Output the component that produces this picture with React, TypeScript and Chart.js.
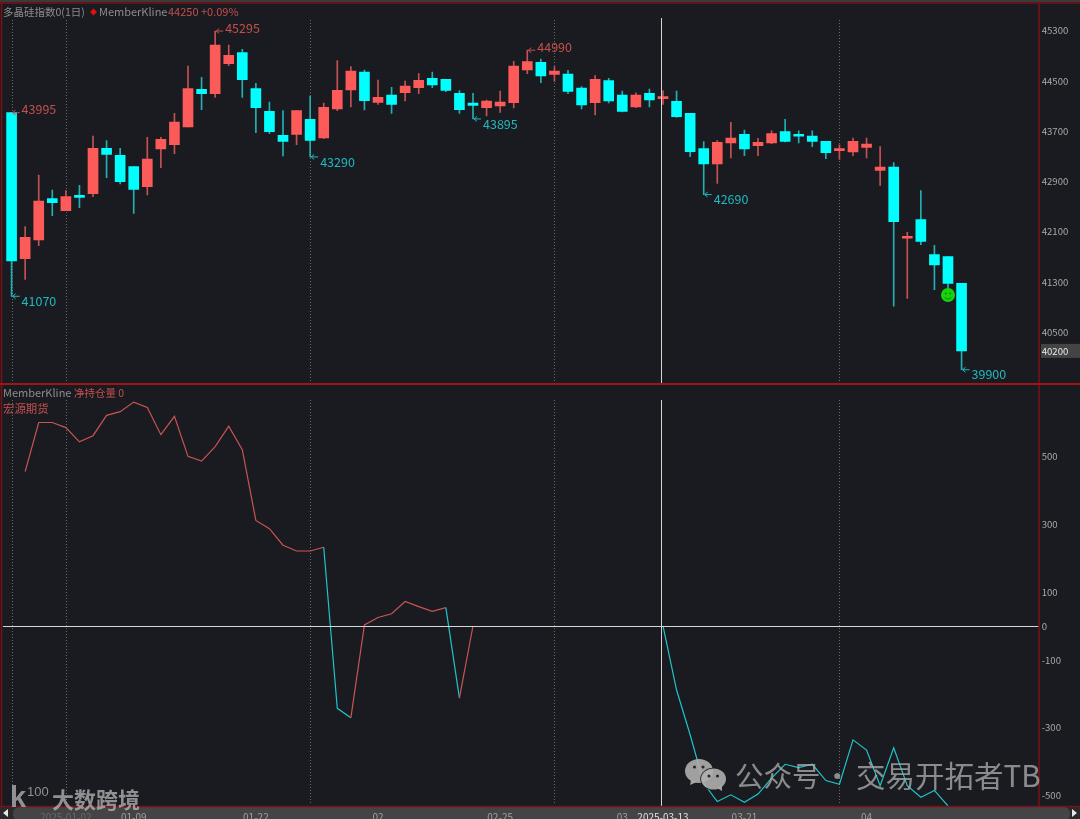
import React, { useEffect, useRef } from "react";
import { Chart, registerables } from "chart.js";

Chart.register(...registerables);

const categories = [
  "2024-12-26","2024-12-27","2024-12-30","2024-12-31","2025-01-02","2025-01-03","2025-01-06","2025-01-07","2025-01-08","2025-01-09",
  "2025-01-10","2025-01-13","2025-01-14","2025-01-15","2025-01-16","2025-01-17","2025-01-20","2025-01-21","2025-01-22","2025-01-23",
  "2025-01-24","2025-01-27","2025-02-05","2025-02-06","2025-02-07","2025-02-10","2025-02-11","2025-02-12","2025-02-13","2025-02-14",
  "2025-02-17","2025-02-18","2025-02-19","2025-02-20","2025-02-21","2025-02-24","2025-02-25","2025-02-26","2025-02-27","2025-02-28",
  "2025-03-03","2025-03-04","2025-03-05","2025-03-06","2025-03-07","2025-03-10","2025-03-11","2025-03-12","2025-03-13","2025-03-14",
  "2025-03-17","2025-03-18","2025-03-19","2025-03-20","2025-03-21","2025-03-24","2025-03-25","2025-03-26","2025-03-27","2025-03-28",
  "2025-03-31","2025-04-01","2025-04-02","2025-04-03","2025-04-07","2025-04-08","2025-04-09","2025-04-10","2025-04-11","2025-04-14",
  "2025-04-15","e1","e2","e3","e4","e5",
];

const opens = [43995,41669,41967,42625,42434,42662,42705,43427,43316,43135,42816,43416,43485,43767,44367,44298,44776,44951,44378,44016,43634,43650,43889,43592,44054,44356,44643,44159,44276,44313,44393,44542,44526,44303,44149,44074,44101,44154,44674,44797,44605,44611,44388,44154,44505,44276,44085,44303,44218,44175,43984,43422,43178,43512,43650,43470,43512,43693,43635,43624,43539,43390,43369,43443,43077,43130,41994,42291,41734,41702,41277];
const highs = [43995,42179,43002,42763,42753,42838,43624,43549,43427,43135,43602,43602,43985,44739,44558,45295,45073,45004,44462,44165,44027,44027,44261,44149,44824,44728,44674,44515,44398,44499,44616,44643,44526,44345,44303,44197,44340,44813,44990,44850,44728,44669,44409,44584,44542,44340,44313,44372,44345,44340,43984,43534,43550,43842,43719,43587,43704,43889,43704,43704,43539,43481,43592,43592,43454,43199,42089,42753,41882,41702,41277];
const lows = [41070,41340,41877,42354,42434,42482,42657,42960,42859,42392,42684,43119,43342,43767,44043,44239,44744,44239,43677,43661,43305,43485,43290,43581,44027,44085,44037,44128,43984,44181,44297,44393,44329,43984,43895,43942,44000,44069,44616,44473,44494,44297,44053,43958,44149,44005,44074,44085,44128,43920,43294,42690,42870,43273,43311,43311,43502,43528,43512,43454,43263,43252,43311,43273,42838,40911,41038,41893,41176,41180,39900];
const closes = [41632,42009,42588,42562,42657,42646,43427,43331,42896,42774,43257,43570,43847,44378,44298,45073,44909,44521,44075,43693,43539,44027,43554,44080,44351,44659,44186,44239,44128,44420,44510,44436,44351,44043,44112,44181,44165,44738,44807,44579,44659,44335,44117,44526,44181,44016,44276,44197,44250,43931,43374,43178,43523,43592,43417,43523,43661,43539,43619,43539,43358,43406,43539,43496,43130,42259,42010,41946,41569,41277,40200];

const netPosition = [
  null,455,600,600,585,543,561,621,632,660,644,564,618,500,486,529,589,520,311,287,238,221,221,232,
  -243,-271,3,25,36,72,57,43,54,-213,0,
  null,null,null,null,null,null,null,null,null,null,null,null,null,
  0,-189,-321,-464,-518,-498,-520,-496,-449,-408,-418,-408,-456,-467,-336,-366,-471,-359,-471,-505,-485,-531,
];

const highMarkIndex = [0, 15, 38];
const lowMarkIndex = [0, 22, 34, 51, 70];
const monthLineIndex = [0, 4, 22, 40, 61];
const crosshairIndex = 48;
const smileyIndex = 69;
const smileyValue = 41090;
const lastPrice = 40200;

const priceTicks = [45300, 44500, 43700, 42900, 42100, 41300, 40500, 40200];
const netTicks = [500, 300, 100, 0, -100, -300, -500];
const axisLabelIndex = [4, 9, 18, 27, 36, 45, 48, 54, 63];
const axisLabelText = ["2025-01-02", "01-09", "01-22", "02", "02-25", "03", "2025-03-13", "03-21", "04"];

const BG = "#1a1b20";
const RED = "#fd5a5a";
const CYAN = "#00ffff";
const RED_WICK = "#c45252";
const CYAN_WICK = "#22b0b4";
const TEXT_RED = "#c44f4e";
const TEXT_CYAN = "#22b8c0";
const GRAY = "#8c8c8c";
const BORDER = "#7a1216";
const CJK = '"Noto Sans CJK SC", "Noto Sans", sans-serif';

const bodyColor = closes.map((c, i) => (c >= opens[i] ? RED : CYAN));
const wickColor = closes.map((c, i) => (c >= opens[i] ? RED_WICK : CYAN_WICK));

const backgroundPlugin = {
  id: "backdrop",
  beforeDraw(chart: any) {
    const { ctx, width, height } = chart;
    const y1 = chart.scales.y1;
    ctx.save();
    ctx.fillStyle = BG;
    ctx.fillRect(0, 0, width, height);
    // window rim
    ctx.fillStyle = "#3a3a3a";
    ctx.fillRect(0, 0, width, 2);
    // bottom strip
    ctx.fillStyle = "#2a2a2c";
    ctx.fillRect(0, 807, width, 12);
    ctx.fillStyle = "#444446";
    ctx.beginPath();
    ctx.roundRect(13, 807, 1057, 14, 6);
    ctx.fill();
    ctx.fillStyle = "#e8e8e8";
    ctx.beginPath();
    ctx.moveTo(3, 813);
    ctx.lineTo(8, 809);
    ctx.lineTo(8, 817);
    ctx.fill();
    ctx.beginPath();
    ctx.moveTo(1077, 813);
    ctx.lineTo(1072, 809);
    ctx.lineTo(1072, 817);
    ctx.fill();
    // last price box
    ctx.fillStyle = "#444444";
    ctx.fillRect(1041, y1.getPixelForValue(lastPrice) - 7, 39, 14);
    ctx.restore();
  },
  beforeDatasetsDraw(chart: any) {
    const { ctx } = chart;
    const x = chart.scales.x;
    // month separators, behind the candles
    ctx.save();
    ctx.strokeStyle = "#6a6a6a";
    ctx.lineWidth = 1;
    ctx.setLineDash([1, 2]);
    monthLineIndex.forEach((i) => {
      const px = Math.round(x.getPixelForValue(i)) + 0.5;
      ctx.beginPath();
      ctx.moveTo(px, 20);
      ctx.lineTo(px, 383);
      ctx.moveTo(px, 400);
      ctx.lineTo(px, 805);
      ctx.stroke();
    });
    ctx.restore();
  },
};

const overlayPlugin = {
  id: "overlay",
  afterDatasetsDraw(chart: any) {
    const { ctx, width } = chart;
    const x = chart.scales.x;
    const y1 = chart.scales.y1;
    const y2 = chart.scales.y2;
    ctx.save();

    // crosshair and zero line
    ctx.strokeStyle = "#d6d6d6";
    ctx.lineWidth = 1;
    const cx = Math.round(x.getPixelForValue(crosshairIndex)) - 1.5;
    ctx.beginPath();
    ctx.moveTo(cx, 18);
    ctx.lineTo(cx, 384);
    ctx.moveTo(cx, 400);
    ctx.lineTo(cx, 806);
    ctx.stroke();
    const zy = Math.round(y2.getPixelForValue(0)) + 0.5;
    ctx.beginPath();
    ctx.moveTo(3, zy);
    ctx.lineTo(1039, zy);
    ctx.stroke();

    // frame
    ctx.strokeStyle = BORDER;
    ctx.lineWidth = 1.5;
    ctx.beginPath();
    ctx.moveTo(0, 3);
    ctx.lineTo(width, 3);
    ctx.moveTo(1.5, 3);
    ctx.lineTo(1.5, 806);
    ctx.moveTo(1039, 3);
    ctx.lineTo(1039, 806);
    ctx.moveTo(0, 806.5);
    ctx.lineTo(width, 806.5);
    ctx.stroke();
    ctx.strokeStyle = "#a01518";
    ctx.lineWidth = 2;
    ctx.beginPath();
    ctx.moveTo(0, 384);
    ctx.lineTo(width, 384);
    ctx.stroke();

    // high / low marks
    const mark = (i: number, value: number, isHigh: boolean) => {
      const px = x.getPixelForValue(i);
      const py = y1.getPixelForValue(value);
      const color = isHigh ? TEXT_RED : TEXT_CYAN;
      ctx.strokeStyle = color;
      ctx.lineWidth = 1;
      ctx.beginPath();
      ctx.moveTo(px + 8, py);
      ctx.lineTo(px + 1, py);
      ctx.moveTo(px + 4, py - 2.5);
      ctx.lineTo(px + 1, py);
      ctx.lineTo(px + 4, py + 2.5);
      ctx.stroke();
      ctx.fillStyle = color;
      ctx.font = `12.5px ${CJK}`;
      ctx.textAlign = "left";
      ctx.textBaseline = "middle";
      ctx.fillText(String(value), px + 10, py + (isHigh ? -3 : 5));
    };
    highMarkIndex.forEach((i) => mark(i, highs[i], true));
    lowMarkIndex.forEach((i) => mark(i, lows[i], false));

    // smiley face on the library-drawn point
    const sx = x.getPixelForValue(smileyIndex);
    const sy = y1.getPixelForValue(smileyValue);
    ctx.fillStyle = "#0b7a08";
    ctx.beginPath();
    ctx.arc(sx - 2.2, sy - 1.5, 1, 0, Math.PI * 2);
    ctx.arc(sx + 2.2, sy - 1.5, 1, 0, Math.PI * 2);
    ctx.fill();
    ctx.strokeStyle = "#0b7a08";
    ctx.lineWidth = 1;
    ctx.beginPath();
    ctx.arc(sx, sy + 0.5, 3.5, 0.15 * Math.PI, 0.85 * Math.PI);
    ctx.stroke();

    // header texts
    ctx.textAlign = "left";
    ctx.textBaseline = "middle";
    ctx.fillStyle = GRAY;
    ctx.font = `10.5px ${CJK}`;
    ctx.fillText("多晶硅指数0(1日)", 3, 12);
    ctx.fillStyle = "#e01010";
    ctx.beginPath();
    ctx.moveTo(93.5, 8.5);
    ctx.lineTo(97, 12);
    ctx.lineTo(93.5, 15.5);
    ctx.lineTo(90, 12);
    ctx.fill();
    ctx.fillStyle = GRAY;
    ctx.font = `11px ${CJK}`;
    ctx.fillText("MemberKline", 99, 12);
    ctx.fillStyle = TEXT_RED;
    ctx.fillText("44250 +0.09%", 168, 12);
    ctx.fillStyle = GRAY;
    ctx.fillText("MemberKline", 3, 393);
    ctx.fillStyle = TEXT_RED;
    ctx.font = `10.5px ${CJK}`;
    ctx.fillText("净持仓量 0", 74, 393);
    ctx.font = `11.4px ${CJK}`;
    ctx.fillText("宏源期货", 3, 409);

    // watermarks
    ctx.fillStyle = "rgba(190,190,190,0.72)";
    ctx.font = `bold 22px ${CJK}`;
    ctx.fillText("大数跨境", 52, 800);
    ctx.font = `bold 29px "Liberation Sans", sans-serif`;
    ctx.fillText("k", 10, 799);
    ctx.font = `13px "Liberation Sans", sans-serif`;
    ctx.fillText("100", 27, 792);
    ctx.fillStyle = "rgba(170,170,170,0.78)";
    ctx.font = `28.5px ${CJK}`;
    ctx.fillText("公众号", 735, 776);
    ctx.fillText("·", 823, 776);
    ctx.font = `29.5px ${CJK}`;
    ctx.fillText("交易开拓者TB", 856, 776);
    // WeChat mark
    ctx.fillStyle = "rgba(175,175,175,0.9)";
    ctx.beginPath();
    ctx.ellipse(699, 771, 14, 12, 0, 0, Math.PI * 2);
    ctx.fill();
    ctx.beginPath();
    ctx.moveTo(691, 780);
    ctx.lineTo(690, 785);
    ctx.lineTo(697, 782);
    ctx.fill();
    ctx.strokeStyle = BG;
    ctx.lineWidth = 1.5;
    ctx.beginPath();
    ctx.ellipse(713.5, 779, 12.5, 10.5, 0, 0, Math.PI * 2);
    ctx.stroke();
    ctx.fill();
    ctx.beginPath();
    ctx.moveTo(717, 788);
    ctx.lineTo(722, 791);
    ctx.lineTo(722, 786);
    ctx.fill();
    ctx.fillStyle = "#2a2a2e";
    [[694.5, 767], [703, 767], [709, 776], [717.5, 776]].forEach(([ex, ey]) => {
      ctx.beginPath();
      ctx.arc(ex, ey, 1.6, 0, Math.PI * 2);
      ctx.fill();
    });
    ctx.restore();
  },
};

const fitRight = (s: any) => {
  s.width = 43.8;
  s.paddingTop = 0;
  s.paddingBottom = 0;
};

export default function App() {
  const ref = useRef<HTMLCanvasElement | null>(null);

  useEffect(() => {
    document.body.style.margin = "0";
    document.body.style.background = BG;
    document.body.style.overflow = "hidden";
    const chart = new Chart(ref.current as HTMLCanvasElement, {
      type: "bar",
      data: {
        labels: categories,
        datasets: [
          {
            type: "bar",
            label: "实体",
            data: closes.map((c, i) => [opens[i], c]),
            backgroundColor: bodyColor,
            barThickness: 10,
            minBarLength: 2,
            grouped: false,
            yAxisID: "y1",
            order: 1,
          },
          {
            type: "bar",
            label: "影线",
            data: highs.map((h, i) => [lows[i], h]),
            backgroundColor: wickColor,
            barThickness: 1,
            grouped: false,
            yAxisID: "y1",
            order: 2,
          },
          {
            type: "line",
            label: "净持仓量",
            data: netPosition,
            yAxisID: "y2",
            borderWidth: 1.2,
            borderColor: TEXT_RED,
            pointRadius: 0,
            spanGaps: false,
            segment: {
              borderColor: (c: any) => (c.p1.parsed.y >= 0 ? "#c85454" : "#20c4c8"),
            },
            order: 0,
          },
          {
            type: "line",
            label: "标记",
            data: closes.map((_, i) => (i === smileyIndex ? smileyValue : null)),
            yAxisID: "y1",
            showLine: false,
            pointRadius: 7,
            pointBackgroundColor: "#14d40c",
            pointBorderWidth: 0,
            order: -1,
          },
        ],
      } as any,
      options: {
        animation: false,
        responsive: false,
        devicePixelRatio: 1,
        layout: { autoPadding: false, padding: { left: 4.8, top: 4, right: 0, bottom: 0 } },
        plugins: { legend: { display: false }, tooltip: { enabled: false } },
        scales: {
          x: {
            type: "category",
            offset: true,
            grid: { display: false, drawTicks: false },
            border: { display: false },
            ticks: {
              autoSkip: false,
              maxRotation: 0,
              padding: 5,
              font: { size: 10, family: CJK },
              callback: (_: any, i: number) => {
                const k = axisLabelIndex.indexOf(i);
                return k >= 0 ? axisLabelText[k] : "";
              },
              color: (c: any) => {
                const k = axisLabelIndex.indexOf(c.index);
                if (k === 0) return "#6a6a6a";
                if (k === 6) return "#e0e0e0";
                return "#a0a0a0";
              },
            },
            afterFit: (s: any) => {
              s.height = 13;
              s.paddingLeft = 0;
              s.paddingRight = 0;
            },
          },
          y1: {
            type: "linear",
            position: "right",
            stack: "panes",
            stackWeight: 380.5,
            min: 39665,
            max: 45726,
            grid: { display: false, drawTicks: false },
            border: { display: false },
            afterBuildTicks: (s: any) => {
              s.ticks = priceTicks.map((value) => ({ value }));
            },
            ticks: {
              padding: 5.5,
              font: { size: 9.6, family: CJK },
              color: (c: any) => (c.tick.value === lastPrice ? "#e8e8e8" : "#a8a8a8"),
              callback: (v: any) => String(v),
            },
            afterFit: fitRight,
          },
          y2: {
            type: "linear",
            position: "right",
            stack: "panes",
            stackWeight: 421.5,
            min: -531,
            max: 712,
            grid: { display: false, drawTicks: false },
            border: { display: false },
            afterBuildTicks: (s: any) => {
              s.ticks = netTicks.map((value) => ({ value }));
            },
            ticks: {
              padding: 5.5,
              font: { size: 9.6, family: CJK },
              color: "#a8a8a8",
              callback: (v: any) => String(v),
            },
            afterFit: fitRight,
          },
        },
      } as any,
      plugins: [backgroundPlugin, overlayPlugin],
    });
    return () => chart.destroy();
  }, []);

  return <canvas ref={ref} width={1080} height={819} style={{ display: "block" }} />;
}
